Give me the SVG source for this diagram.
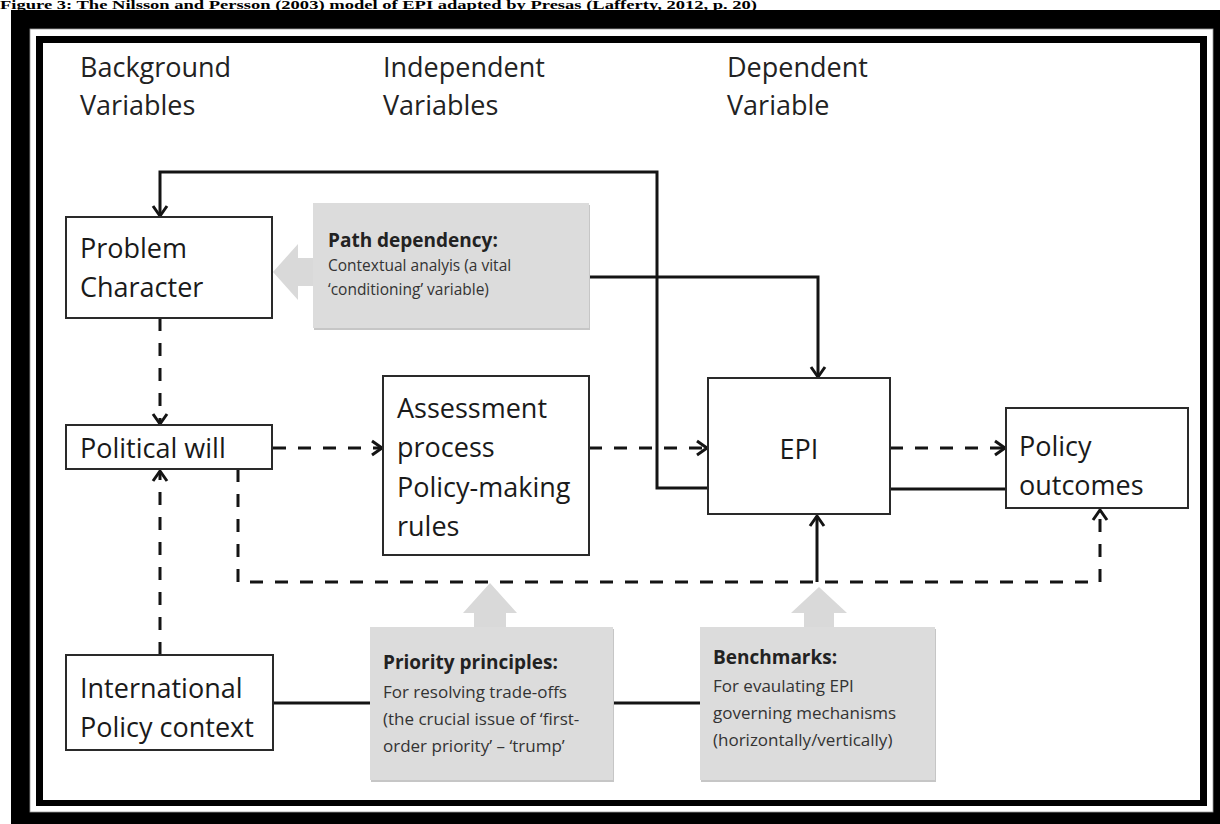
<svg xmlns="http://www.w3.org/2000/svg" width="1220" height="824" viewBox="0 0 1220 824">
<style>
.cap{font-family:"Liberation Serif",serif;font-weight:bold;font-size:11.5px;fill:#000}
.hd{font-family:"Open Sans","Liberation Sans",sans-serif;font-size:27px;fill:#222}
.lb{font-family:"Open Sans","Liberation Sans",sans-serif;font-size:27px;fill:#1a1a1a}
.gt{font-family:"Open Sans","Liberation Sans",sans-serif;font-size:17px;fill:#333}
.gp{font-family:"Open Sans","Liberation Sans",sans-serif;font-size:15.5px;fill:#333}
.gb{font-family:"Open Sans","Liberation Sans",sans-serif;font-size:19px;font-weight:bold;fill:#222}
.box{fill:#fff;stroke:#2a2a2a;stroke-width:2}
.gbox{fill:#dcdcdc}
.gshadow{fill:#c6c6c6}
.garrow{fill:#d9d9d9}
.sol{fill:none;stroke:#141414;stroke-width:3}
.dash{fill:none;stroke:#141414;stroke-width:3;stroke-dasharray:13 12}
</style>
<defs>
<marker id="ah" markerUnits="userSpaceOnUse" markerWidth="16" markerHeight="18" refX="12" refY="9" orient="auto">
<path d="M2,2 L12,9 L2,16" fill="none" stroke="#141414" stroke-width="3"/>
</marker>
</defs>
<rect width="1220" height="824" fill="#fff"/>
<text class="cap" x="0" y="9" textLength="757" lengthAdjust="spacingAndGlyphs">Figure 3: The Nilsson and Persson (2003) model of EPI adapted by Presas (Lafferty, 2012, p. 20)</text>
<g id="frame">
<rect x="11" y="10" width="1220" height="830" fill="#000"/>
<rect x="30" y="29" width="1183" height="783" fill="#fff" stroke="#999" stroke-width="0.8"/>
<rect x="36" y="36" width="1171" height="770" fill="#000"/>
<rect x="43" y="43" width="1157" height="757" fill="#fff"/>
</g>
<g id="headers">
<text class="hd" x="80" y="77">Background</text>
<text class="hd" x="80" y="115">Variables</text>
<text class="hd" x="383" y="77">Independent</text>
<text class="hd" x="383" y="115">Variables</text>
<text class="hd" x="727" y="77">Dependent</text>
<text class="hd" x="727" y="115">Variable</text>
</g>
<g id="gray-arrows">
<polygon class="garrow" points="273,272 298,244 298,258 314,258 314,286 298,286 298,300"/>
<polygon class="garrow" points="490,583 517,613 506,613 506,628 474,628 474,613 463,613"/>
<polygon class="garrow" points="819,587 847,613 834,613 834,628 804,628 804,613 791,613"/>
</g>
<g id="connectors">
<path class="sol" d="M708,488 H657 V172 H160 V216" marker-end="url(#ah)"/>
<path class="sol" d="M589,277 H818 V377" marker-end="url(#ah)"/>
<path class="dash" d="M273,448 H382" marker-end="url(#ah)"/>
<path class="dash" d="M589,448 H707" marker-end="url(#ah)"/>
<path class="dash" d="M890,448 H1005" marker-end="url(#ah)"/>
<path class="sol" d="M890,489 H1006"/>
<path class="dash" d="M160,318 V424" marker-end="url(#ah)"/>
<path class="dash" d="M238,469 V582 H1100 V510" marker-end="url(#ah)"/>
<path class="dash" d="M160,655 V471" marker-end="url(#ah)"/>
<path class="sol" d="M817,582 V516" marker-end="url(#ah)"/>
<path class="sol" d="M273,703 H370"/>
<path class="sol" d="M613,703 H700"/>
</g>
<g id="problem-character">
<rect class="box" x="66" y="217" width="206" height="101"/>
<text class="lb" x="80" y="258">Problem</text>
<text class="lb" x="80" y="297">Character</text>
</g>
<g id="path-dependency">
<rect class="gshadow" x="314" y="205" width="276" height="125"/>
<rect class="gbox" x="313" y="203" width="276" height="125"/>
<text class="gb" x="328" y="247">Path dependency:</text>
<text class="gp" x="328" y="271">Contextual analyis (a vital</text>
<text class="gp" x="328" y="295">‘conditioning’ variable)</text>
</g>
<g id="political-will">
<rect class="box" x="66" y="425" width="206" height="44"/>
<text class="lb" x="80" y="458">Political will</text>
</g>
<g id="assessment">
<rect class="box" x="383" y="376" width="206" height="179"/>
<text class="lb" x="397" y="418">Assessment</text>
<text class="lb" x="397" y="457">process</text>
<text class="lb" x="397" y="497">Policy-making</text>
<text class="lb" x="397" y="536">rules</text>
</g>
<g id="epi">
<rect class="box" x="708" y="378" width="182" height="136"/>
<text class="lb" x="799" y="459" text-anchor="middle">EPI</text>
</g>
<g id="policy-outcomes">
<rect class="box" x="1006" y="408" width="182" height="100"/>
<text class="lb" x="1019" y="456">Policy</text>
<text class="lb" x="1019" y="495">outcomes</text>
</g>
<g id="international">
<rect class="box" x="66" y="655" width="207" height="95"/>
<text class="lb" x="80" y="698">International</text>
<text class="lb" x="80" y="737">Policy context</text>
</g>
<g id="priority-principles">
<rect class="gshadow" x="371" y="629" width="243" height="153"/>
<rect class="gbox" x="370" y="627" width="243" height="153"/>
<text class="gb" x="383" y="669">Priority principles:</text>
<text class="gt" x="383" y="698">For resolving trade-offs</text>
<text class="gt" x="383" y="725">(the crucial issue of ‘first-</text>
<text class="gt" x="383" y="752">order priority’ – ‘trump’</text>
</g>
<g id="benchmarks">
<rect class="gshadow" x="701" y="629" width="235" height="153"/>
<rect class="gbox" x="700" y="627" width="235" height="153"/>
<text class="gb" x="713" y="664">Benchmarks:</text>
<text class="gt" x="713" y="692">For evaulating EPI</text>
<text class="gt" x="713" y="719">governing mechanisms</text>
<text class="gt" x="713" y="746">(horizontally/vertically)</text>
</g>
</svg>
